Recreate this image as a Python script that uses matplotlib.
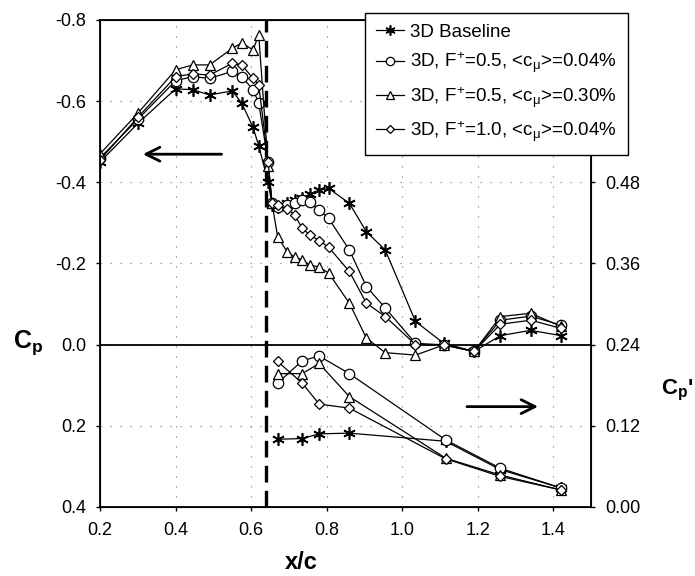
import matplotlib
matplotlib.use('Agg')
import matplotlib.pyplot as plt
from matplotlib.ticker import FormatStrFormatter

plt.rcParams['font.family'] = ['Liberation Sans', 'DejaVu Sans']
plt.rcParams['mathtext.default'] = 'regular'
plt.rcParams['axes.unicode_minus'] = False

# Cp (left axis, inverted)
x_cp = [0.2, 0.3, 0.4, 0.445, 0.49, 0.55, 0.575, 0.605, 0.62, 0.645, 0.655,
        0.67, 0.695, 0.715, 0.735, 0.755, 0.78, 0.805, 0.86, 0.905, 0.955,
        1.035, 1.11, 1.19, 1.26, 1.34, 1.42]
cp_base = [-0.45, -0.545, -0.63, -0.628, -0.615, -0.625, -0.595, -0.535, -0.49, -0.40, -0.345,
           -0.34, -0.35, -0.355, -0.36, -0.37, -0.38, -0.385, -0.348, -0.278, -0.233,
           -0.057, -0.003, 0.017, -0.022, -0.035, -0.022]
cp_f05_004 = [-0.46, -0.555, -0.65, -0.66, -0.656, -0.673, -0.66, -0.628, -0.595, -0.45, -0.35,
              -0.34, -0.345, -0.35, -0.355, -0.352, -0.332, -0.311, -0.233, -0.143, -0.09,
              -0.003, 0.001, 0.017, -0.06, -0.07, -0.048]
cp_f05_030 = [-0.47, -0.57, -0.677, -0.689, -0.689, -0.73, -0.743, -0.726, -0.763, -0.44, -0.35,
              -0.266, -0.229, -0.215, -0.209, -0.196, -0.191, -0.176, -0.102, -0.016, 0.02,
              0.026, 0.001, 0.017, -0.069, -0.077, -0.045]
cp_f10_004 = [-0.455, -0.56, -0.66, -0.667, -0.664, -0.693, -0.689, -0.656, -0.64, -0.45, -0.35,
              -0.345, -0.335, -0.319, -0.287, -0.270, -0.256, -0.240, -0.180, -0.102, -0.069,
              0.0, 0.0, 0.017, -0.05, -0.06, -0.04]

# Cp' (right axis)
x_cprms = [0.67, 0.735, 0.78, 0.86, 1.115, 1.26, 1.42]
cprms_base = [0.100, 0.101, 0.108, 0.109, 0.097, 0.055, 0.028]
cprms_f05_004 = [0.183, 0.216, 0.223, 0.197, 0.099, 0.057, 0.028]
cprms_f05_030 = [0.197, 0.197, 0.212, 0.163, 0.072, 0.047, 0.025]
cprms_f10_004 = [0.215, 0.183, 0.152, 0.146, 0.071, 0.045, 0.025]

labels = ['3D Baseline',
          '3D, F$^{+}$=0.5, <c$_{\\mu}$>=0.04%',
          '3D, F$^{+}$=0.5, <c$_{\\mu}$>=0.30%',
          '3D, F$^{+}$=1.0, <c$_{\\mu}$>=0.04%']

styles = [dict(marker=(6, 2, 0), markersize=9, markeredgewidth=1.2),
          dict(marker='o', markersize=7.5, markerfacecolor='white', markeredgewidth=0.9),
          dict(marker='^', markersize=7.5, markerfacecolor='white', markeredgewidth=0.9),
          dict(marker='D', markersize=5, markerfacecolor='white', markeredgewidth=0.9)]

fig = plt.figure(figsize=(6.95, 5.76), dpi=100)
ax = fig.add_axes([0.144, 0.120, 0.7065, 0.8455])

cp_all = [cp_base, cp_f05_004, cp_f05_030, cp_f10_004]
handles = []
for ys, st, lab in zip(cp_all, styles, labels):
    h, = ax.plot(x_cp, ys, color='black', linewidth=0.9, markeredgecolor='black',
                 label=lab, zorder=3, **st)
    handles.append(h)

ax.set_xlim(0.2, 1.5)
ax.set_ylim(0.4, -0.8)
ax.set_xticks([0.2, 0.4, 0.6, 0.8, 1.0, 1.2, 1.4])
ax.set_yticks([-0.8, -0.6, -0.4, -0.2, 0.0, 0.2, 0.4])
ax.yaxis.set_major_formatter(FormatStrFormatter('%.1f'))
ax.xaxis.set_major_formatter(FormatStrFormatter('%.1f'))
ax.tick_params(labelsize=13, direction='out', length=3, width=1)
ax.tick_params(axis='x', pad=8)
ax.tick_params(axis='y', pad=7)
ax.grid(True, linestyle=(0, (1, 8)), linewidth=0.8, color='0.45')
for s in ax.spines.values():
    s.set_linewidth(1.3)

ax.axhline(0.0, color='black', linewidth=1.3, zorder=2)
ax.axvline(0.64, color='black', linewidth=2.4, linestyle=(0, (5, 2.5)), zorder=2)

ax.annotate('', xy=(0.306, -0.469), xytext=(0.529, -0.469),
            arrowprops=dict(arrowstyle='->', lw=2, color='black', mutation_scale=25))
ax.annotate('', xy=(1.367, 0.153), xytext=(1.164, 0.153),
            arrowprops=dict(arrowstyle='->', lw=2, color='black', mutation_scale=25))

ax2 = ax.twinx()
cprms_all = [cprms_base, cprms_f05_004, cprms_f05_030, cprms_f10_004]
for ys, st in zip(cprms_all, styles):
    ax2.plot(x_cprms, ys, color='black', linewidth=0.9, markeredgecolor='black', zorder=3, **st)
ax2.set_ylim(0.0, 0.72)
ax2.set_yticks([0.0, 0.12, 0.24, 0.36, 0.48])
ax2.yaxis.set_major_formatter(FormatStrFormatter('%.2f'))
ax2.tick_params(labelsize=13, direction='out', length=3, width=1, pad=7)

fig.text(0.434, 0.012, 'x/c', fontsize=17, fontweight='bold', ha='center', va='baseline')
fig.text(0.040, 0.405, 'C$_{p}$', fontsize=18, fontweight='bold', ha='center', va='center')
fig.text(0.951, 0.323, "C$_{p}$'", fontsize=16, fontweight='bold', ha='left', va='center')

leg = fig.legend(handles=handles, loc='upper left', bbox_to_anchor=(0.525, 0.978),
                 fontsize=13.5, frameon=True, fancybox=False, edgecolor='black',
                 framealpha=1, handlelength=1.5, handletextpad=0.3, labelspacing=0.5,
                 borderpad=0.6, borderaxespad=0, markerscale=0.8)
leg.get_frame().set_linewidth(1.0)

fig.savefig('out.png', dpi=100)
